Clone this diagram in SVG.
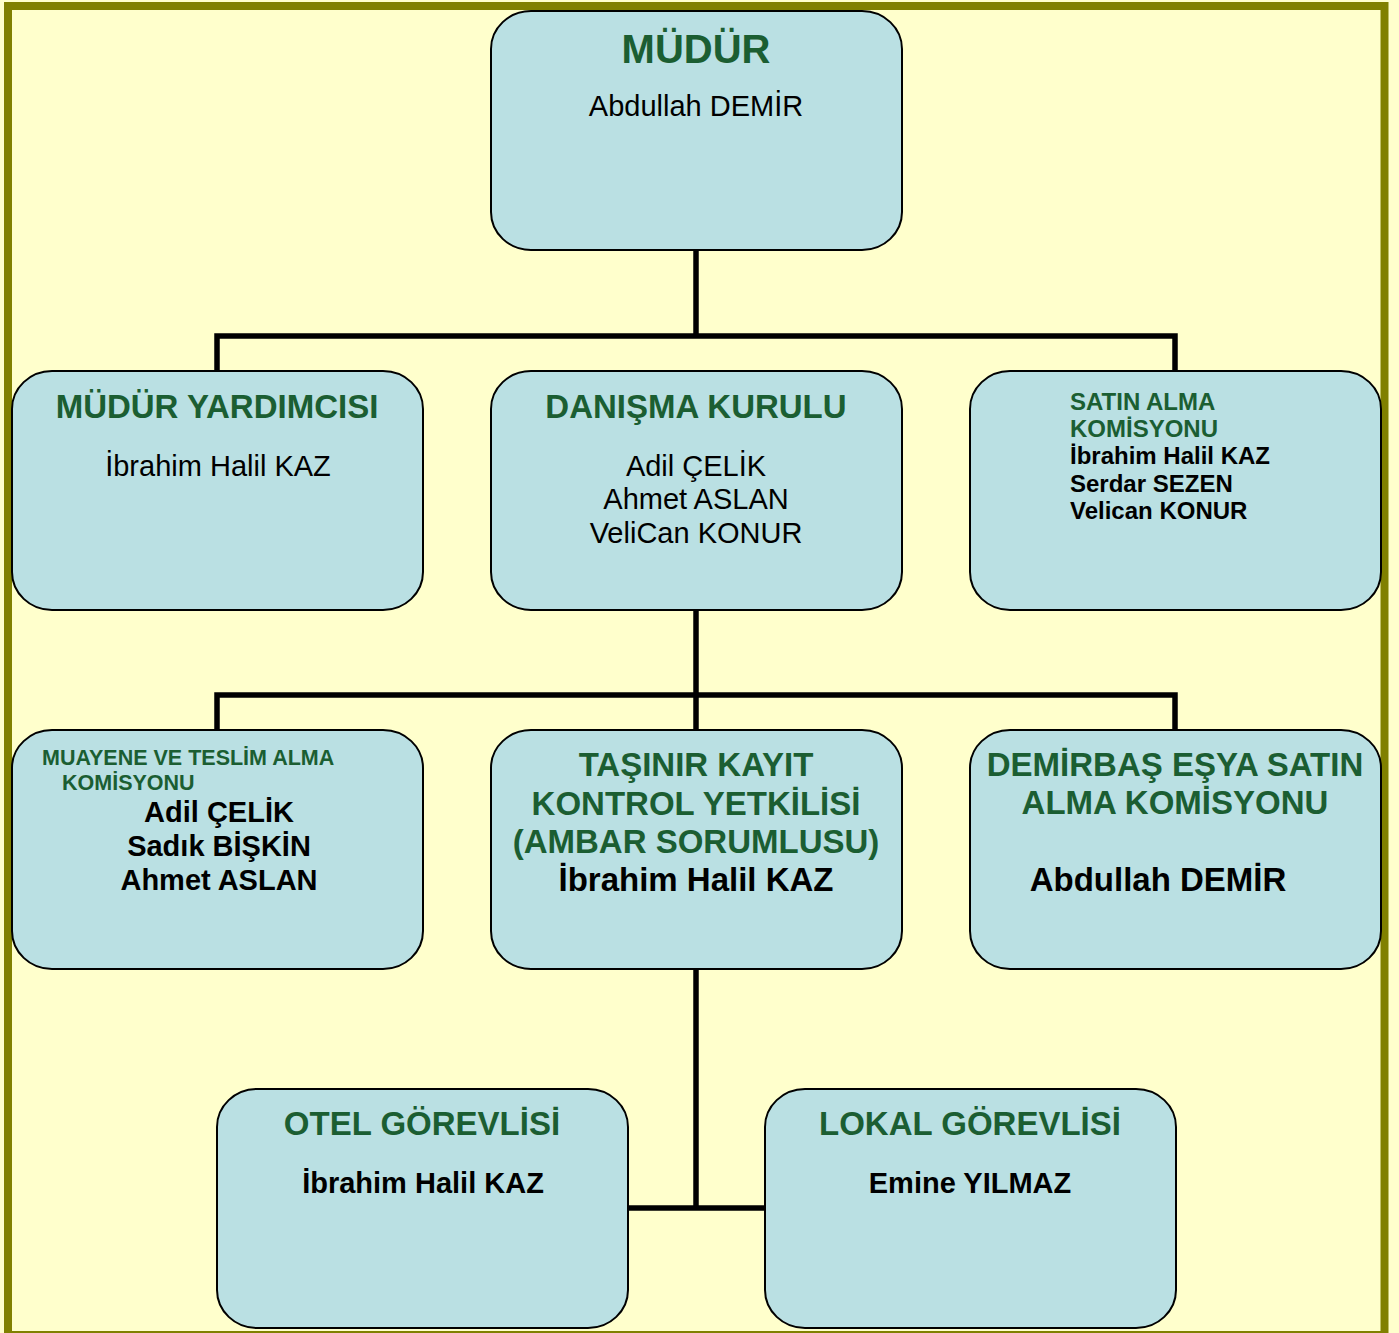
<svg xmlns="http://www.w3.org/2000/svg" width="1399" height="1333" viewBox="0 0 1399 1333">
<style>
.box{fill:#BAE0E3;stroke:#000;stroke-width:2}
.t{font-family:"Liberation Sans",Arial,sans-serif;font-weight:bold;fill:#1B5E32;text-anchor:middle}
.n{font-family:"Liberation Sans",Arial,sans-serif;fill:#000;text-anchor:middle}
.b{font-weight:bold}
.l{text-anchor:start}
.con{fill:none;stroke:#000;stroke-width:5.5;stroke-linejoin:miter;stroke-linecap:butt}
</style>
<rect x="0" y="0" width="1399" height="1333" fill="#FFFFCC"/>
<rect x="8" y="6" width="1376.5" height="1329" fill="#FFFFCC" stroke="#808000" stroke-width="8"/>
<g id="connectors">
<polyline class="con" points="696,250 696,336"/>
<polyline class="con" points="217,371 217,336 1175,336 1175,371"/>
<polyline class="con" points="696,610 696,730"/>
<polyline class="con" points="217,730 217,695 1175,695 1175,730"/>
<polyline class="con" points="696,969 696,1208"/>
<polyline class="con" points="627,1208 765,1208"/>
</g>
<g id="mudur">
<rect class="box" x="491" y="11" width="411" height="239" rx="40" ry="38"/>
<text class="t" x="696" y="63" font-size="40">MÜDÜR</text>
<text class="n" x="696" y="116" font-size="29">Abdullah DEMİR</text>
</g>
<g id="mudur-yardimcisi">
<rect class="box" x="12" y="371" width="411" height="239" rx="40" ry="38"/>
<text class="t" x="217" y="418" font-size="33">MÜDÜR YARDIMCISI</text>
<text class="n" x="218" y="476" font-size="29">İbrahim Halil KAZ</text>
</g>
<g id="danisma-kurulu">
<rect class="box" x="491" y="371" width="411" height="239" rx="40" ry="38"/>
<text class="t" x="696" y="418" font-size="33">DANIŞMA KURULU</text>
<text class="n" x="696" y="476" font-size="29">Adil ÇELİK</text>
<text class="n" x="696" y="509" font-size="29">Ahmet ASLAN</text>
<text class="n" x="696" y="543" font-size="29">VeliCan KONUR</text>
</g>
<g id="satin-alma">
<rect class="box" x="970" y="371" width="411" height="239" rx="40" ry="38"/>
<text class="t l" x="1070" y="410" font-size="24">SATIN ALMA</text>
<text class="t l" x="1070" y="437" font-size="24">KOMİSYONU</text>
<text class="n b l" x="1070" y="464" font-size="24">İbrahim Halil KAZ</text>
<text class="n b l" x="1070" y="492" font-size="24">Serdar SEZEN</text>
<text class="n b l" x="1070" y="519" font-size="24">Velican KONUR</text>
</g>
<g id="muayene">
<rect class="box" x="12" y="730" width="411" height="239" rx="40" ry="38"/>
<text class="t l" x="42" y="765" font-size="21.5">MUAYENE VE TESLİM ALMA</text>
<text class="t l" x="62" y="790" font-size="21.5">KOMİSYONU</text>
<text class="n b" x="219" y="822" font-size="29">Adil ÇELİK</text>
<text class="n b" x="219" y="856" font-size="29">Sadık BİŞKİN</text>
<text class="n b" x="219" y="890" font-size="29">Ahmet ASLAN</text>
</g>
<g id="tasinir">
<rect class="box" x="491" y="730" width="411" height="239" rx="40" ry="38"/>
<text class="t" x="696" y="776" font-size="33">TAŞINIR KAYIT</text>
<text class="t" x="696" y="815" font-size="33">KONTROL YETKİLİSİ</text>
<text class="t" x="696" y="853" font-size="33">(AMBAR SORUMLUSU)</text>
<text class="n b" x="696" y="891" font-size="33">İbrahim Halil KAZ</text>
</g>
<g id="demirbas">
<rect class="box" x="970" y="730" width="411" height="239" rx="40" ry="38"/>
<text class="t" x="1175" y="776" font-size="33">DEMİRBAŞ EŞYA SATIN</text>
<text class="t" x="1175" y="814" font-size="33">ALMA KOMİSYONU</text>
<text class="n b" x="1158" y="891" font-size="33">Abdullah DEMİR</text>
</g>
<g id="otel">
<rect class="box" x="217" y="1089" width="411" height="239" rx="40" ry="38"/>
<text class="t" x="422" y="1135" font-size="33">OTEL GÖREVLİSİ</text>
<text class="n b" x="423" y="1193" font-size="29">İbrahim Halil KAZ</text>
</g>
<g id="lokal">
<rect class="box" x="765" y="1089" width="411" height="239" rx="40" ry="38"/>
<text class="t" x="970" y="1135" font-size="33">LOKAL GÖREVLİSİ</text>
<text class="n b" x="970" y="1193" font-size="29">Emine YILMAZ</text>
</g>
</svg>
